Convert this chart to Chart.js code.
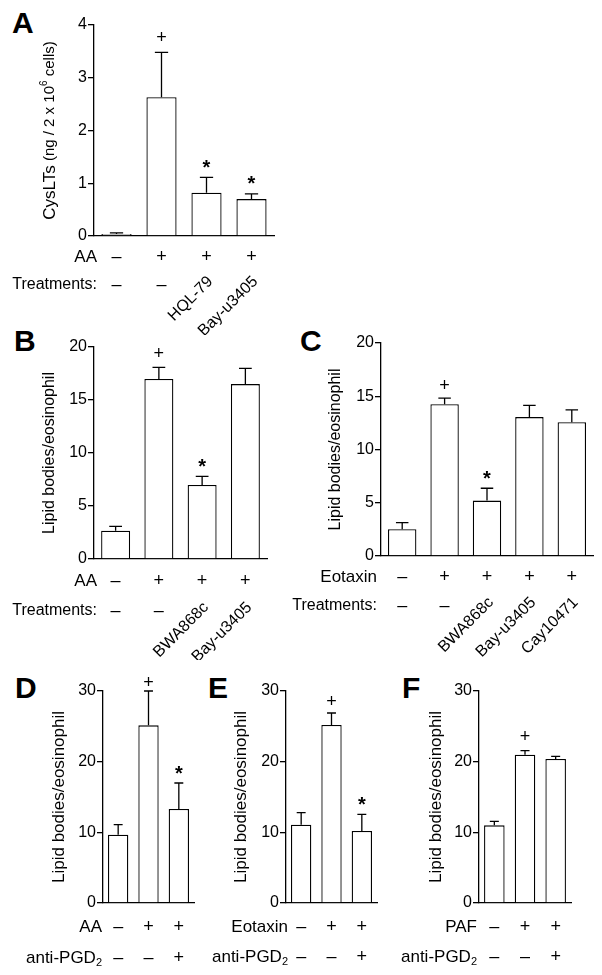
<!DOCTYPE html>
<html lang="en">
<head>
<meta charset="UTF-8">
<title>CysLTs and lipid bodies per eosinophil</title>
<script src="https://cdn.jsdelivr.net/npm/chart.js"></script>
<style>
  body {
    margin: 0;
    background: #fff;
    width: 602px;
    height: 975px;
    position: relative;
    overflow: hidden;
    font-family: 'Liberation Sans', Arial, sans-serif;
  }
  canvas { position: absolute; }
  .tag {
    position: absolute;
    font: bold 30px 'Liberation Sans', Arial, sans-serif;
    line-height: 1;
    color: #000;
  }
</style>
</head>
<body>
<div class="tag" style="left:12px;top:8px">A</div>
<div class="tag" style="left:14px;top:326px">B</div>
<div class="tag" style="left:300px;top:326px">C</div>
<div class="tag" style="left:15px;top:673px">D</div>
<div class="tag" style="left:208px;top:673px">E</div>
<div class="tag" style="left:402px;top:673px">F</div>

<canvas id="cA"></canvas>
<canvas id="cB"></canvas>
<canvas id="cC"></canvas>
<canvas id="cD"></canvas>
<canvas id="cE"></canvas>
<canvas id="cF"></canvas>

<script>
// ---- data ----
// A: CysLTs (ng / 2 x 10^6 cells)
const aRow1 = ['–', '+', '+', '+'];
const aRow2 = ['–', '–', 'HQL-79', 'Bay-u3405'];
const aMean = [0.04, 2.63, 0.82, 0.70];
const aSem = [0.02, 0.85, 0.29, 0.10];
const aMark = ['', '+', '*', '*'];
const aTicks = [0, 1, 2, 3, 4];

// B: lipid bodies, AA
const bRow1 = ['–', '+', '+', '+'];
const bRow2 = ['–', '–', 'BWA868c', 'Bay-u3405'];
const bMean = [2.67, 16.98, 6.98, 16.5];
const bSem = [0.41, 1.10, 0.82, 1.49];
const bMark = ['', '+', '*', ''];
const bTicks = [0, 5, 10, 15, 20];

// C: lipid bodies, eotaxin
const cRow1 = ['–', '+', '+', '+', '+'];
const cRow2 = ['–', '–', 'BWA868c', 'Bay-u3405', 'Cay10471'];
const cMean = [2.51, 14.26, 5.2, 13.04, 12.57];
const cSem = [0.62, 0.57, 1.16, 1.10, 1.16];
const cMark = ['', '+', '*', '', ''];
const cTicks = [0, 5, 10, 15, 20];

// D: AA +/- anti-PGD2
const dRow1 = ['–', '+', '+'];
const dRow2 = ['–', '–', '+'];
const dMean = [9.67, 25.14, 13.3];
const dSem = [1.41, 4.86, 3.68];
const dMark = ['', '+', '*'];

// E: eotaxin +/- anti-PGD2
const eRow1 = ['–', '+', '+'];
const eRow2 = ['–', '–', '+'];
const eMean = [11.08, 25.19, 10.19];
const eSem = [1.70, 1.70, 2.36];
const eMark = ['', '+', '*'];

// F: PAF +/- anti-PGD2
const fRow1 = ['–', '+', '+'];
const fRow2 = ['–', '–', '+'];
const fMean = [10.99, 20.99, 20.38];
const fSem = [0.57, 0.57, 0.37];
const fMark = ['', '+', ''];

const defTicks = [0, 10, 20, 30];
const lipidTitle = 'Lipid bodies/eosinophil';

const FONT = "'Liberation Sans', Arial, sans-serif";

// ---- panel layout (page pixels); canvases may overlap, they are transparent ----
const panels = [
  { id: 'cA', x: 0, y: 0, w: 300, h: 335, axisX: 94, top: 25, bottom: 236, right: 274,
    mean: aMean, sem: aSem, mark: aMark, ticks: aTicks, row1: aRow1, row2: aRow2,
    name1: 'AA', name2: 'Treatments:', labelX: 97, row1Y: 257, row2Y: 285, titleX: 50, title: 'cyslt', plusOff: 14 },
  { id: 'cB', x: 0, y: 330, w: 295, h: 330, axisX: 94, top: 347, bottom: 559, right: 267,
    mean: bMean, sem: bSem, mark: bMark, ticks: bTicks, row1: bRow1, row2: bRow2,
    name1: 'AA', name2: 'Treatments:', labelX: 97, row1Y: 581, row2Y: 611, titleX: 50, title: lipidTitle, titleSize: 16, plusOff: 13 },
  { id: 'cC', x: 285, y: 330, w: 317, h: 330, axisX: 381, top: 343, bottom: 556, right: 593,
    mean: cMean, sem: cSem, mark: cMark, ticks: cTicks, row1: cRow1, row2: cRow2,
    name1: 'Eotaxin', name2: 'Treatments:', labelX: 377, row1Y: 577, row2Y: 606, titleX: 336, title: lipidTitle, titleSize: 16, plusOff: 12 },
  { id: 'cD', x: 0, y: 640, w: 200, h: 335, axisX: 103, top: 691, bottom: 903, right: 194,
    mean: dMean, sem: dSem, mark: dMark, ticks: defTicks, row1: dRow1, row2: dRow2,
    name1: 'AA', name2: 'anti-PGD', labelX: 102, row1Y: 927, row2Y: 958, titleX: 59, title: lipidTitle, titleSize: 17, plusOff: 8 },
  { id: 'cE', x: 195, y: 640, w: 195, h: 335, axisX: 286, top: 691, bottom: 903, right: 377,
    mean: eMean, sem: eSem, mark: eMark, ticks: defTicks, row1: eRow1, row2: eRow2,
    name1: 'Eotaxin', name2: 'anti-PGD', labelX: 288, row1Y: 927, row2Y: 957, titleX: 241, title: lipidTitle, titleSize: 17, plusOff: 11 },
  { id: 'cF', x: 395, y: 640, w: 207, h: 335, axisX: 479, top: 691, bottom: 903, right: 571,
    mean: fMean, sem: fSem, mark: fMark, ticks: defTicks, row1: fRow1, row2: fRow2,
    name1: 'PAF', name2: 'anti-PGD', labelX: 477, row1Y: 927, row2Y: 957, titleX: 436, title: lipidTitle, titleSize: 17, plusOff: 14 }
];

function drawSign(ctx, s, x, y) {
  ctx.font = '18px ' + FONT;
  ctx.textAlign = 'center';
  ctx.textBaseline = 'middle';
  ctx.fillText(s, x, y);
}

function makePanel(p) {
  const cv = document.getElementById(p.id);
  cv.width = p.w;
  cv.height = p.h;
  cv.style.left = p.x + 'px';
  cv.style.top = p.y + 'px';

  const extras = {
    id: 'extras',
    afterDatasetsDraw(chart) {
      const ctx = chart.ctx;
      const ys = chart.scales.y;
      const bars = chart.getDatasetMeta(0).data;
      ctx.save();
      ctx.fillStyle = '#000';
      ctx.strokeStyle = '#000';
      ctx.lineWidth = 1.3;

      // error bars (upper half only) and significance marks
      bars.forEach((bar, i) => {
        const yTop = ys.getPixelForValue(p.mean[i]);
        const yErr = ys.getPixelForValue(p.mean[i] + p.sem[i]);
        const half = bar.width * 0.22;
        ctx.beginPath();
        ctx.moveTo(bar.x, yTop);
        ctx.lineTo(bar.x, yErr);
        ctx.moveTo(bar.x - half, yErr);
        ctx.lineTo(bar.x + half, yErr);
        ctx.stroke();
        if (p.mark[i] === '+') {
          ctx.font = '18px ' + FONT;
          ctx.textAlign = 'center';
          ctx.textBaseline = 'middle';
          ctx.fillText('+', bar.x, yErr - p.plusOff);
        } else if (p.mark[i] === '*') {
          ctx.font = 'bold 20px ' + FONT;
          ctx.textAlign = 'center';
          ctx.textBaseline = 'middle';
          ctx.fillText('*', bar.x, yErr - 9);
        }
      });

      // rows under the axis
      const r1 = p.row1Y - p.y;
      const r2 = p.row2Y - p.y;
      const lx = p.labelX - p.x;
      ctx.textAlign = 'right';
      ctx.textBaseline = 'middle';
      ctx.font = '17px ' + FONT;
      ctx.fillText(p.name1, lx, r1);
      if (p.name2 === 'anti-PGD') {
        ctx.font = '11px ' + FONT;
        ctx.fillText('2', lx, r2 + 5);
        const sw = ctx.measureText('2').width;
        ctx.font = '17px ' + FONT;
        ctx.fillText(p.name2, lx - sw, r2);
      } else {
        ctx.font = '16px ' + FONT;
        ctx.fillText(p.name2, lx, r2);
      }
      bars.forEach((bar, i) => {
        drawSign(ctx, p.row1[i], bar.x, r1);
        const t = p.row2[i];
        if (t === '–' || t === '+') {
          drawSign(ctx, t, bar.x, r2);
        } else {
          ctx.save();
          ctx.translate(bar.x + 4, r2 - 6);
          ctx.rotate(-Math.PI / 4);
          ctx.font = '16px ' + FONT;
          ctx.textAlign = 'right';
          ctx.textBaseline = 'middle';
          ctx.fillText(t, 0, 0);
          ctx.restore();
        }
      });

      // y axis title
      const cy = (chart.chartArea.top + chart.chartArea.bottom) / 2;
      ctx.save();
      ctx.translate(p.titleX - p.x, cy);
      ctx.rotate(-Math.PI / 2);
      ctx.textBaseline = 'middle';
      if (p.title === 'cyslt') {
        const parts = [
          ['CysLTs', '17px ', 0],
          [' (ng / 2 x 10', '15px ', 0],
          ['6', '10px ', -6],
          [' cells)', '15px ', 0]
        ];
        let tw = 0;
        parts.forEach(pt => { ctx.font = pt[1] + FONT; tw += ctx.measureText(pt[0]).width; });
        let x = -tw / 2;
        ctx.textAlign = 'left';
        parts.forEach(pt => {
          ctx.font = pt[1] + FONT;
          ctx.fillText(pt[0], x, pt[2]);
          x += ctx.measureText(pt[0]).width;
        });
      } else {
        ctx.font = p.titleSize + 'px ' + FONT;
        ctx.textAlign = 'center';
        ctx.fillText(p.title, 0, 0);
      }
      ctx.restore();
      ctx.restore();
    }
  };

  new Chart(cv, {
    type: 'bar',
    data: {
      labels: p.mean.map((_, i) => p.row1[i] + ' / ' + p.row2[i]),
      datasets: [{
        data: p.mean,
        backgroundColor: '#fff',
        borderColor: '#000',
        borderWidth: 1.3,
        barPercentage: 0.67,
        categoryPercentage: 1
      }]
    },
    options: {
      responsive: false,
      animation: false,
      devicePixelRatio: 1,
      layout: { padding: { top: p.top - p.y, right: p.x + p.w - p.right, left: 0, bottom: 0 } },
      plugins: { legend: { display: false }, tooltip: { enabled: false } },
      scales: {
        x: {
          ticks: { display: false },
          grid: { display: false },
          border: { color: '#000', width: 1.3 },
          afterFit: s => { s.height = p.y + p.h - p.bottom; }
        },
        y: {
          min: p.ticks[0],
          max: p.ticks[p.ticks.length - 1],
          afterBuildTicks: s => { s.ticks = p.ticks.map(v => ({ value: v })); },
          ticks: { color: '#000', font: { size: 16, family: FONT }, padding: 1 },
          grid: { drawOnChartArea: false, tickLength: 6, color: '#000', lineWidth: 1.3 },
          border: { color: '#000', width: 1.3 },
          afterFit: s => { s.width = p.axisX - p.x; }
        }
      }
    },
    plugins: [extras]
  });
}

panels.forEach(makePanel);
</script>
</body>
</html>
